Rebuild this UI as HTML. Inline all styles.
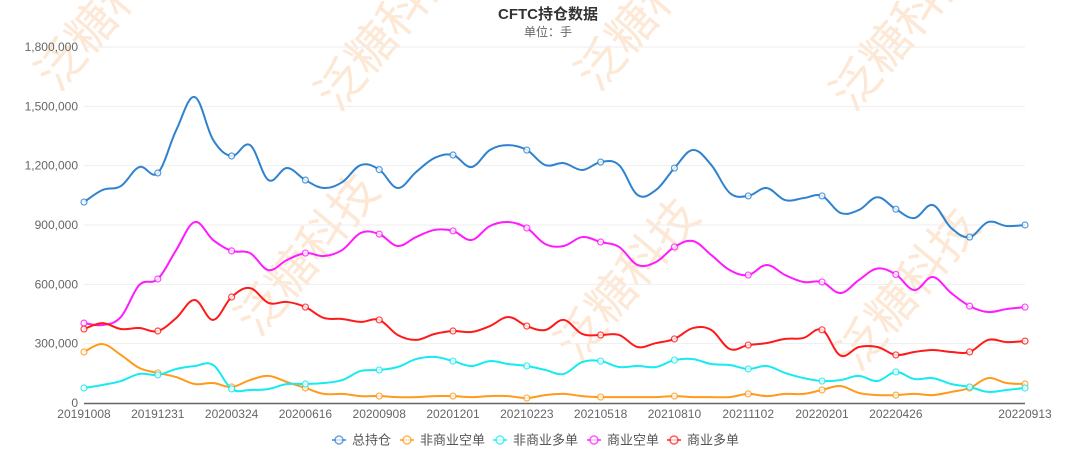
<!DOCTYPE html>
<html><head><meta charset="utf-8">
<style>
html,body{margin:0;padding:0;background:#fff;}
body{width:1080px;height:451px;overflow:hidden;position:relative;font-family:"Liberation Sans","Noto Sans CJK SC",sans-serif;}
svg{position:absolute;left:0;top:0;}
</style></head>
<body>
<svg id="chart" width="1080" height="451">
  <g id="watermarks"></g>
  <text x="548" y="19" text-anchor="middle" font-size="15" font-weight="bold" fill="#333">CFTC持仓数据</text>
  <text x="548" y="36" text-anchor="middle" font-size="12" fill="#666">单位：手</text>
  <g id="grid"></g>
  <g id="yaxis"></g>
  <g id="xaxis"></g>
  <g id="series"></g>
  <g id="legend"></g>
</svg>
<script>
const yTicks = [0, 300000, 600000, 900000, 1200000, 1500000, 1800000];
const xTickLabels = ["20191008","20191231","20200324","20200616","20200908","20201201","20210223","20210518","20210810","20211102","20220201","20220426","","20220913"];
const seriesNames = ["总持仓","非商业空单","非商业多单","商业空单","商业多单"];
const seriesColors = ["#2f82d0","#ff9a1a","#17eaf0","#ff1aff","#ff1a1a"];
const totalPos = [1016,1077,1097,1193,1163,1380,1547,1330,1249,1304,1127,1188,1127,1087,1117,1203,1180,1087,1168,1239,1254,1193,1279,1304,1279,1203,1213,1178,1218,1203,1052,1077,1188,1279,1203,1062,1047,1087,1026,1036,1047,961,976,1040,980,935,1001,885,839,915,895,900].map(v=>v*1000);
const nonCommShort = [258,298,243,177,152,131,96,101,81,116,137,106,76,46,46,35,35,30,30,35,35,30,35,35,25,40,46,35,30,30,30,30,35,30,30,30,46,35,46,46,66,86,51,40,40,46,40,56,76,126,101,96].map(v=>v*1000);
const nonCommLong = [76,91,111,147,142,172,187,192,71,66,71,96,96,101,116,162,167,182,222,233,212,187,212,197,187,167,147,207,212,182,187,182,217,222,197,192,172,187,152,126,111,116,137,111,157,121,126,96,81,56,66,76].map(v=>v*1000);
const commShort = [404,394,435,597,627,774,915,824,769,758,672,723,758,743,774,860,854,794,839,875,870,824,895,915,885,804,794,839,814,789,698,713,789,819,748,672,647,698,647,612,612,556,622,680,650,571,637,556,490,460,475,485].map(v=>v*1000);
const commLong = [374,404,374,379,364,430,521,420,536,581,506,511,485,430,425,410,420,344,319,349,364,359,389,435,389,369,420,349,344,344,283,303,324,379,369,273,293,303,324,329,370,240,283,283,243,258,268,258,258,319,308,313].map(v=>v*1000);
const seriesData = [totalPos, nonCommShort, nonCommLong, commShort, commLong];

const NS = "http://www.w3.org/2000/svg";
const X0 = 84, X1 = 1025, Y0 = 403, Y1 = 47, YMAX = 1800000;
const n = totalPos.length;
function xScale(i){ return X0 + (X1 - X0) * i / (n - 1); }
function yScale(v){ return Y0 - (Y0 - Y1) * v / YMAX; }
function el(tag, attrs, parent){ const e = document.createElementNS(NS, tag); for (const k in attrs) e.setAttribute(k, attrs[k]); parent.appendChild(e); return e; }
function tickIndex(k){ return k === xTickLabels.length - 1 ? n - 1 : k * 4; }

// watermarks
const wm = document.getElementById("watermarks");
[[120,20],[400,40],[660,20],[915,40],[320,265],[640,290],[920,300]].forEach(p => {
  const t = el("text", {x:p[0], y:p[1], "font-size":48, fill:"#fde8d6", "text-anchor":"middle", transform:`rotate(-50 ${p[0]} ${p[1]})`}, wm);
  
  
  t.textContent = "泛糖科技";
});

// grid + y axis
const grid = document.getElementById("grid"), ya = document.getElementById("yaxis");
yTicks.forEach(v => {
  const y = yScale(v);
  if (v > 0) { const l = el("line", {x1:X0, x2:X1, y1:y, y2:y, stroke:"#eeeeee", "stroke-width":1}, grid);
    
     }
  const t = el("text", {x:78, y:y+4, "text-anchor":"end", "font-size":12, fill:"#666"}, ya);
  
  
  t.textContent = v.toLocaleString("en-US");
});

// x axis
const xa = document.getElementById("xaxis");
const axl = el("line", {x1:X0, x2:X1, y1:Y0+0.5, y2:Y0+0.5, stroke:"#666", "stroke-width":1.5}, xa);


xTickLabels.forEach((lab, k) => {
  if (!lab) return;
  const t = el("text", {x:xScale(tickIndex(k)), y:418, "text-anchor":"middle", "font-size":12, fill:"#666"}, xa);
  
  
  t.textContent = lab;
});

// series
function smoothPath(pts){
  let d = `M${pts[0][0]},${pts[0][1]}`;
  const k = 0.18;
  for (let i = 0; i < pts.length - 1; i++) {
    const p0 = pts[Math.max(0,i-1)], p1 = pts[i], p2 = pts[i+1], p3 = pts[Math.min(pts.length-1,i+2)];
    const c1 = [p1[0] + (p2[0]-p0[0])*k, p1[1] + (p2[1]-p0[1])*k];
    const c2 = [p2[0] - (p3[0]-p1[0])*k, p2[1] - (p3[1]-p1[1])*k];
    d += ` C${c1[0]},${c1[1]} ${c2[0]},${c2[1]} ${p2[0]},${p2[1]}`;
  }
  return d;
}
const sg = document.getElementById("series");
const seriesKeys = ["total","noncomm-short","noncomm-long","comm-short","comm-long"];
seriesData.forEach((data, s) => {
  const g = el("g", {}, sg);
  
  
  const pts = data.map((v,i) => [xScale(i), yScale(v)]);
  const p = el("path", {d:smoothPath(pts), fill:"none", stroke:seriesColors[s], "stroke-width":2}, g);
  
  
  data.forEach((v,i) => {
    if (i % 4 === 0 || i === n - 1) {
      const c = el("circle", {cx:xScale(i), cy:yScale(v), r:3, fill:"#fff", stroke:seriesColors[s], "stroke-width":1.2, opacity:0.8}, g);
      
      
    }
  });
});

// legend
const lg = document.getElementById("legend");
const legX = [332, 400, 493, 587, 667];
seriesNames.forEach((name, s) => {
  const g = el("g", {}, lg);
  
  
  const x = legX[s], y = 440;
  el("line", {x1:x, x2:x+14, y1:y, y2:y, stroke:seriesColors[s], "stroke-width":2, opacity:0.7}, g);
  el("circle", {cx:x+7, cy:y, r:4, fill:"#fff", stroke:seriesColors[s], "stroke-width":1.5, opacity:0.7}, g);
  const t = el("text", {x:x+20, y:y+4.5, "font-size":13, fill:"#555"}, g);
  t.textContent = name;
});
</script>
</body></html>
